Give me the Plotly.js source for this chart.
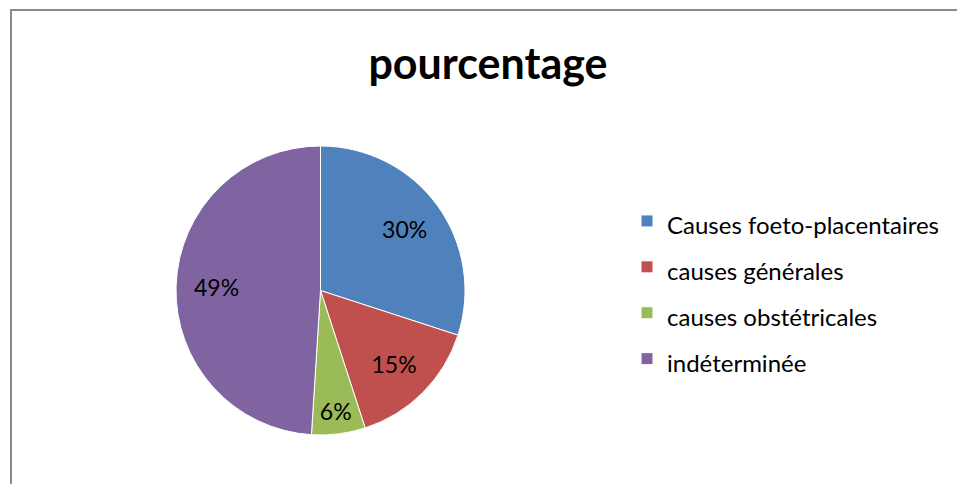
<!DOCTYPE html>
<html>
<head>
<meta charset="utf-8">
<script src="https://cdn.plot.ly/plotly-3.0.1.min.js"></script>
<style>html,body{margin:0;padding:0;background:#fff;}#chart{width:957px;height:484px;}</style>
</head>
<body>
<div id="chart"></div>
<script>
const labels = ["Causes foeto-placentaires", "causes générales", "causes obstétricales", "indéterminée"];
const values = [30, 15, 6, 49];
const colors = ["#4F81BD", "#C0504D", "#9BBB59", "#8064A2"];
const titleText = "pourcentage";

const W = 957, H = 484;
const FONT = "Lato, 'Open Sans', sans-serif";
const styledLabels = labels.map(l => '<span style="font-size:24px">' + l + '</span>');
const dom = {x: [176/W, 465/W], y: [1-435/H, 1-146/H]};

// filled slices
const pie = {
  type: "pie",
  labels: styledLabels,
  values: values,
  sort: false,
  direction: "clockwise",
  rotation: 0,
  marker: {colors: colors, line: {color: "#ffffff", width: 1}},
  textinfo: "none",
  hoverinfo: "none",
  domain: dom
};
// transparent ring carrying the percentage labels
const labelRing = {
  type: "pie",
  labels: styledLabels,
  values: values,
  sort: false,
  direction: "clockwise",
  rotation: 0,
  hole: 0.44,
  showlegend: false,
  marker: {colors: labels.map(() => "rgba(0,0,0,0)"), line: {width: 0}},
  textinfo: "percent",
  texttemplate: "%{percent:.0%}",
  textposition: "inside",
  insidetextorientation: "horizontal",
  textfont: {family: FONT, size: 23, color: "#000"},
  hoverinfo: "none",
  domain: dom
};

const layout = {
  width: W, height: H,
  margin: {l: 0, r: 0, t: 0, b: 0},
  paper_bgcolor: "#fff",
  font: {family: FONT},
  title: {text: "<b>" + titleText + "</b>", x: 488/W, xanchor: "center", y: 1-64/H, yanchor: "middle",
          font: {family: FONT, size: 43, color: "#000"}},
  showlegend: true,
  legend: {x: 627/W, xanchor: "left", y: 1-290/H, yanchor: "middle", traceorder: "normal",
           font: {family: FONT, size: 33, color: "#000"}, bgcolor: "rgba(0,0,0,0)"},
  shapes: [{type: "rect", xref: "paper", yref: "paper", x0: 11/W, x1: 1.2, y0: -0.2, y1: 1-10/H,
            line: {color: "#8a8a8a", width: 2}, fillcolor: "rgba(0,0,0,0)", layer: "above"}]
};

Plotly.newPlot("chart", [pie, labelRing], layout, {displayModeBar: false, staticPlot: true});
</script>
</body>
</html>
